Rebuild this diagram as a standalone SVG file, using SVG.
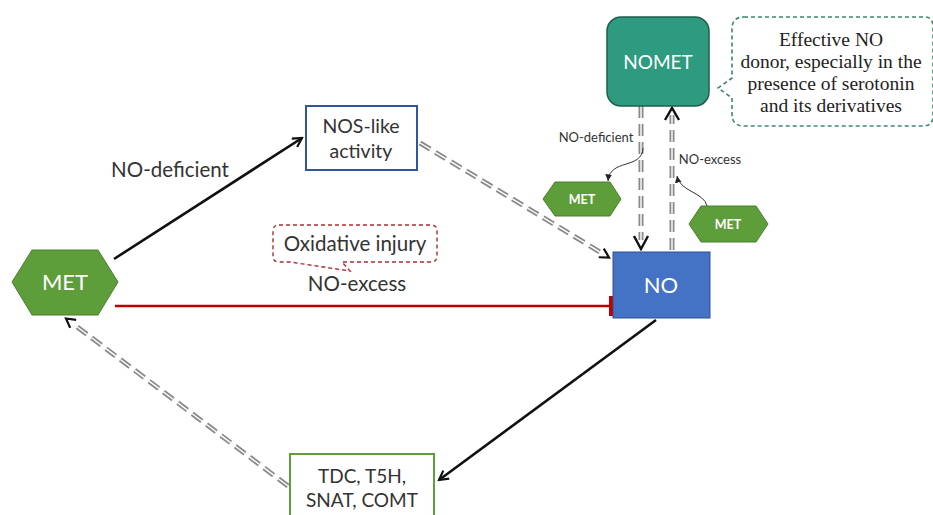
<svg xmlns="http://www.w3.org/2000/svg" width="933" height="515" viewBox="0 0 933 515">
<defs>
<marker id="chev" viewBox="0 0 12 12" refX="10" refY="6" markerWidth="12" markerHeight="12" markerUnits="userSpaceOnUse" orient="auto">
<path d="M1,1 L10,6 L1,11" fill="none" stroke="#111" stroke-width="2.2"/>
</marker>
<marker id="chevs" viewBox="0 0 12 12" refX="10" refY="6" markerWidth="8" markerHeight="8" markerUnits="userSpaceOnUse" orient="auto">
<path d="M0,1 L10,6 L0,11 Z" fill="#222"/>
</marker>
<marker id="tee" viewBox="0 0 4 20" refX="2" refY="10" markerWidth="4" markerHeight="20" markerUnits="userSpaceOnUse" orient="auto">
<rect x="0" y="0" width="4" height="20" fill="#c00000"/>
</marker>
</defs>
<style>
text{font-family:Lato,"Liberation Sans",sans-serif;fill:#333;text-anchor:middle}
.dsh{fill:none;stroke:#8a8a8a;stroke-width:5;stroke-dasharray:12 6}
.dshw{fill:none;stroke:#fff;stroke-width:1.4;stroke-dasharray:12 6}
.blk{fill:none;stroke:#111;stroke-width:2.6}
.hex{fill:#5e9e3a;stroke:#4a7f2c;stroke-width:1}
.hext{fill:#fff;font-weight:bold}
.serif{font-family:"Liberation Serif",serif;font-size:19.5px;fill:#222}
</style>
<rect width="933" height="515" fill="#fff"/>
<g id="connectors">
<line class="blk" x1="114" y1="259" x2="302" y2="138" marker-end="url(#chev)"/>
<line x1="115" y1="306" x2="611" y2="306" stroke="#c00000" stroke-width="2.6" marker-end="url(#tee)"/>
<line class="blk" x1="656" y1="320" x2="439" y2="480" marker-end="url(#chev)"/>
<line class="dsh" x1="420" y1="143" x2="600" y2="252"/>
<line class="dshw" x1="420" y1="143" x2="600" y2="252"/>
<line stroke="none" x1="598" y1="251" x2="609" y2="257.5" marker-end="url(#chev)"/>
<line class="dsh" x1="288" y1="486" x2="76" y2="326"/>
<line class="dshw" x1="288" y1="486" x2="76" y2="326"/>
<line stroke="none" x1="78" y1="327.5" x2="66" y2="318.5" marker-end="url(#chev)"/>
<line class="dsh" x1="641" y1="106" x2="641" y2="240"/>
<line class="dshw" x1="641" y1="106" x2="641" y2="240"/>
<polyline points="634,236 641,249 648,236" fill="none" stroke="#111" stroke-width="2.4"/>
<line class="dsh" x1="672" y1="250" x2="672" y2="115"/>
<line class="dshw" x1="672" y1="250" x2="672" y2="115"/>
<polyline points="665,120 672,108 679,120" fill="none" stroke="#111" stroke-width="2.4"/>
<path d="M643,148 C642,170 610,158 608,181" fill="none" stroke="#333" stroke-width="1" marker-end="url(#chevs)"/>
<path d="M707,206 C704,192 680,192 677,176" fill="none" stroke="#333" stroke-width="1" marker-end="url(#chevs)"/>
</g>
<g id="MET">
<polygon class="hex" points="12,282 32,250 98,250 118,282 98,315 32,315"/>
<text x="65" y="290" style="fill:#fff;font-size:22px">MET</text>
</g>
<g id="NOS">
<rect x="306" y="106" width="111" height="64" fill="#fff" stroke="#2f55a4" stroke-width="2"/>
<text x="361" y="133" font-size="19.5">NOS-like</text>
<text x="361" y="158" font-size="19.5">activity</text>
</g>
<g id="NO">
<rect x="613" y="252" width="97" height="66" fill="#4472c4" stroke="#2f528f" stroke-width="1"/>
<text x="661" y="293" font-size="22" style="fill:#fff">NO</text>
</g>
<g id="NOMET">
<rect x="607" y="17" width="102" height="89" rx="14" fill="#2e9b80" stroke="#1f5e4e" stroke-width="1.5"/>
<text x="658" y="69" font-size="19" style="fill:#fff">NOMET</text>
</g>
<g id="callout">
<path d="M744,17 H925 Q933,17 933,27 V116 Q933,126 923,126 H744 Q732,126 732,114 V98 L718,88 L732,78 V29 Q732,17 744,17 Z" fill="#fff" stroke="#3b8a6a" stroke-width="1.6" stroke-dasharray="4 3"/>
<text class="serif" x="831" y="46">Effective NO</text>
<text class="serif" x="831" y="68">donor, especially  in the</text>
<text class="serif" x="831" y="90">presence  of serotonin</text>
<text class="serif" x="831" y="112">and its derivatives</text>
</g>
<g id="TDC">
<rect x="290" y="454" width="144" height="70" fill="#fff" stroke="#5e9e3a" stroke-width="2"/>
<text x="362" y="483" font-size="19">TDC, T5H,</text>
<text x="362" y="507" font-size="19">SNAT, COMT</text>
</g>
<g id="MET1">
<polygon class="hex" points="543,199 555,182 610,182 621,199 610,216 555,216"/>
<text x="582" y="204" class="hext" font-size="12.5">MET</text>
</g>
<g id="MET2">
<polygon class="hex" points="689,224 701,206 756,206 768,224 756,242 701,242"/>
<text x="728" y="229" class="hext" font-size="12.5">MET</text>
</g>
<g id="oxid">
<path d="M279,225 H431 Q437,225 437,231 V256 Q437,262 431,262 H342 L350,271 L290,262 H279 Q273,262 273,256 V231 Q273,225 279,225 Z" fill="#fff" stroke="#b02a30" stroke-width="1.4" stroke-dasharray="4 3"/>
<text x="355" y="251" font-size="20.5">Oxidative injury</text>
</g>
<g id="labels">
<text x="170" y="177" font-size="20.5">NO-deficient</text>
<text x="357" y="291" font-size="20.5">NO-excess</text>
<text x="596" y="142" font-size="13">NO-deficient</text>
<text x="710" y="164" font-size="13">NO-excess</text>
</g>
</svg>
